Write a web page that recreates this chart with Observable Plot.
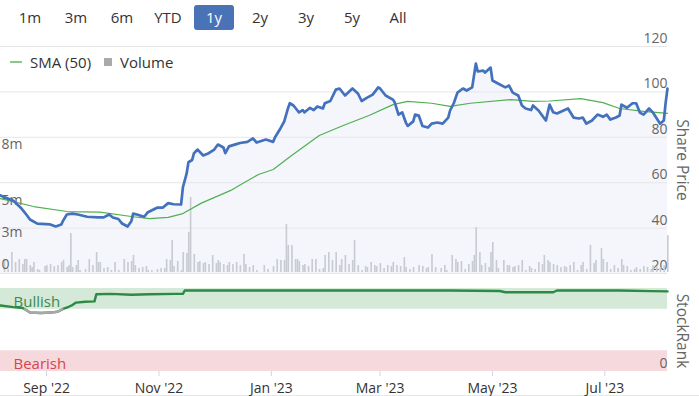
<!DOCTYPE html>
<html><head><meta charset="utf-8">
<script src="https://cdn.jsdelivr.net/npm/d3@7"></script>
<script src="https://cdn.jsdelivr.net/npm/@observablehq/plot@0.6"></script>
<style>
body{margin:0;background:#fff;font-family:"Open Sans",sans-serif;}
#wrap{position:relative;width:699px;height:396px;overflow:hidden;}
#wrap svg{position:absolute;left:0;top:0;}
#btns{position:absolute;left:7px;top:5px;display:flex;}
.btn{width:46px;height:25px;display:flex;justify-content:center;align-items:center;font-size:15px;color:#333;}
.btn span{display:inline-block;line-height:25px;}
.btn.sel span{background:#4a72b6;color:#fff;border-radius:3px;width:40px;text-align:center;}
#legend{position:absolute;left:10px;top:51px;font-size:15px;color:#333;display:flex;align-items:center;height:22px;}
.lline{width:12px;height:2px;background:#8bc98b;margin-right:8px;}
.lsq{width:8px;height:8px;background:#aaa;margin:0 8px 0 13px;}
.vlab{position:absolute;font-size:15.5px;color:#666;transform:translate(-50%,-50%) rotate(90deg);white-space:nowrap;}
#bottomline{position:absolute;left:0;top:395px;width:699px;height:1px;background:#e6e6e6;}
</style></head>
<body>
<div id="wrap">
  <div id="btns"></div>
  <div id="legend"><div class="lline"></div><span>SMA (50)</span><div class="lsq"></div><span>Volume</span></div>
  <div class="vlab" style="left:683px;top:160px;">Share Price</div>
  <div class="vlab" style="left:683px;top:331px;">StockRank</div>
  <div id="bottomline"></div>
</div>
<script>
// ---------- data ----------
const START = "2022-08-07";            // day 0
const END_DAY = 362;                   // last day shown
const rangeButtons = ["1m","3m","6m","YTD","1y","2y","3y","5y","All"];
const selectedRange = "1y";
// share price [day, price]
const price = [[0,54.4],[7,52],[11,49],[14,46],[16,43.8],[20,42],[27,41.6],[30,40.7],[33,41.6],[34,43.3],[36,46],[39,46.4],[42,46],[47,45],[53,44.7],[56,44.7],[59,46],[61,44.7],[64,44],[66,42],[69,40.7],[71,43],[72,46.4],[74,46],[78,45],[80,47],[85,49],[88,49],[91,51],[94,50.5],[98,50.4],[99,58],[101,64],[102,69],[104,70],[105,73],[107,74.6],[110,72],[113,73],[116,74.6],[118,76.8],[121,75.5],[122,73],[124,76],[128,77],[130,77.5],[134,78],[137,79.5],[139,77.7],[144,79],[148,78],[149,80],[152,84],[154,87],[156,92.7],[157,95],[159,94],[162,91],[164,92],[165,91],[168,93],[170,92],[172,93.6],[175,92.7],[176,95],[179,96],[182,101],[184,101.5],[187,98.4],[191,101.5],[194,99.3],[196,96],[199,97.5],[202,98.8],[205,102],[206,101.5],[209,98.4],[213,96.6],[214,95.3],[216,90],[218,91],[220,86.5],[221,85],[224,87],[225,90],[227,89.6],[229,85],[232,84.3],[234,86],[237,86.5],[240,86],[243,88.7],[244,91.8],[246,95],[248,99.7],[251,101.5],[253,100.6],[256,102],[258,112.5],[259,109],[262,109.4],[263,108.5],[266,110.7],[267,105],[270,103.7],[274,102],[276,102.8],[278,99.7],[281,98.4],[283,94],[285,92.7],[288,92],[289,94],[292,91.8],[296,87.4],[298,94.4],[300,91],[302,90.5],[308,92.7],[311,88.7],[314,88.3],[316,88.7],[318,86],[321,87.4],[324,90],[327,89],[329,90],[331,87.8],[334,88.7],[336,89.6],[337,94.4],[340,93],[343,95],[345,95],[347,90.9],[349,90],[352,92.7],[354,91],[358,86],[360,87.4],[361,95.3],[362,101.5]];
// 50-day simple moving average [day, value]
const sma50 = [[0,53],[18,49.5],[36,47.3],[54,47],[72,45],[81,44.2],[91,44.7],[99,46.4],[109,51],[125,56.6],[130,59],[140,63.6],[148,65.8],[158,72],[173,80.8],[186,85.2],[200,89.6],[213,94.4],[221,95.8],[234,95],[244,93.6],[255,95],[277,96.6],[289,95.8],[298,96],[315,97],[327,95.3],[336,92.7],[349,91.4],[362,90.5]];
// volume, millions [day, volume]
const volume = [[2,1.45],[4,0.52],[6,2.12],[8,1.27],[10,1.54],[12,1.07],[13,1.54],[14,1.54],[16,0.97],[17,0.76],[18,1.27],[20,0.52],[21,0.39],[24,0.87],[25,0.97],[27,1.07],[29,0.87],[31,0.97],[33,1.27],[34,1.45],[36,0.76],[37,0.97],[38,3.47],[39,0.76],[41,0.97],[42,1.45],[43,0.39],[46,0.52],[48,1.54],[50,0.97],[52,2.12],[53,1.27],[54,1.27],[56,0.64],[58,0.76],[60,0.39],[62,1.27],[64,0.39],[67,1.54],[69,1.27],[71,1.36],[72,1.88],[73,0.97],[75,0.64],[77,0.76],[79,0.87],[80,0.39],[82,0.39],[85,0.52],[87,0.64],[89,0.64],[90,1.54],[92,1.45],[93,3.0],[94,0.87],[96,1.36],[98,0.39],[99,2.12],[101,2.04],[102,3.54],[103,5.64],[105,1.96],[107,1.27],[108,1.36],[110,1.17],[111,1.27],[113,1.07],[115,1.88],[117,1.17],[118,1.45],[119,1.27],[121,1.07],[123,0.97],[124,1.27],[126,1.07],[128,1.27],[130,0.97],[132,1.96],[133,1.07],[135,0.76],[137,0.97],[139,0.39],[143,0.97],[145,0.52],[148,0.87],[150,1.54],[152,1.45],[154,1.45],[155,4.05],[156,2.65],[158,2.65],[160,1.54],[161,1.54],[162,1.36],[164,0.97],[165,1.07],[167,0.87],[169,1.54],[171,1.54],[173,0.52],[175,0.64],[176,1.88],[178,2.12],[180,1.45],[182,2.12],[184,0.97],[185,1.54],[187,1.88],[189,1.07],[191,1.45],[192,3.0],[194,0.97],[196,0.39],[198,0.87],[199,0.76],[201,1.27],[203,0.97],[204,0.87],[206,1.17],[208,0.64],[210,0.97],[212,0.87],[213,1.27],[215,0.97],[217,0.87],[219,1.71],[220,0.76],[222,0.52],[224,0.76],[227,0.97],[229,0.87],[231,0.64],[232,0.76],[234,1.96],[236,0.76],[239,0.64],[241,0.97],[242,0.39],[245,1.88],[247,1.54],[248,1.27],[250,1.36],[252,0.52],[254,1.07],[256,1.36],[257,1.88],[258,3.86],[260,2.12],[261,0.97],[263,1.17],[265,0.76],[266,2.12],[267,2.86],[269,1.45],[270,0.64],[273,1.45],[275,0.97],[276,0.97],[278,0.76],[279,0.87],[281,0.97],[283,1.45],[285,0.39],[287,0.87],[288,0.64],[290,0.52],[292,1.27],[294,1.07],[295,1.88],[297,1.45],[298,1.27],[300,1.07],[302,0.97],[304,0.76],[306,0.87],[307,0.76],[309,0.97],[311,1.27],[313,0.39],[315,0.97],[316,1.27],[318,0.52],[320,2.65],[322,1.17],[323,1.45],[326,2.43],[327,1.54],[329,1.27],[331,0.52],[333,0.97],[335,0.64],[337,1.54],[338,0.97],[340,0.87],[342,0.39],[344,0.52],[345,0.76],[347,0.52],[349,0.87],[351,0.76],[353,0.52],[354,0.97],[356,0.87],[358,0.76],[360,0.97],[362,3.34]];
// StockRank [day, rank]
const stockRank = [[0,79.5],[7,77.5],[12,76.5],[14,74],[16,71],[22,70.5],[27,71],[31,72],[34,75.5],[37,78],[39,80],[41,83],[46,84],[51,84.5],[52,93],[60,93.5],[71,92.5],[81,93],[95,93.5],[99,93.5],[100,97.6],[163,97.6],[244,97.6],[271,97],[274,95.5],[300,95.5],[302,97.6],[336,97.6],[353,96.8],[362,96.5]];
const rankBands = [{name:"Bullish", lo:75, hi:100},{name:"Bearish", lo:0, hi:25}];
const bullishThreshold = 75;
const priceTicks = [20,40,60,80,100,120];
const volumeTicks = [0,3,5,8];
const rankTicks = [0];
const xTicks = ["2022-09-01","2022-11-01","2023-01-01","2023-03-01","2023-05-01","2023-07-01"];

// ---------- build ----------
const start = new Date(START + "T00:00:00Z");
const day = d => d3.utcDay.offset(start, d);
const P = price.map(([d,v]) => ({date: day(d), v}));
const S = sma50.map(([d,v]) => ({date: day(d), v}));
const V = volume.map(([d,v]) => ({date: day(d), v}));
const R = stockRank.map(([d,v]) => ({date: day(d), v}));
// grey (below-threshold) segments of the StockRank line
const G = []; let sid = 0;
R.forEach((p, i) => {
  if (i > 0) {
    const q = R[i-1];
    if ((q.v < bullishThreshold) !== (p.v < bullishThreshold)) {
      const t = (bullishThreshold - q.v) / (p.v - q.v);
      G.push({date: new Date(+q.date + t * (p.date - q.date)), v: bullishThreshold, z: sid});
      if (!(p.v < bullishThreshold)) sid++;
    }
  }
  if (p.v < bullishThreshold) G.push({...p, z: sid});
});

const btns = document.getElementById("btns");
rangeButtons.forEach(b => {
  const el = document.createElement("div");
  el.className = "btn" + (b === selectedRange ? " sel" : "");
  el.innerHTML = `<span>${b}</span>`;
  btns.appendChild(el);
});

const W = 699, H = 396;
const xDomain = [start, day(END_DAY)];
const common = {width: W, height: H, marginLeft: 0, marginRight: 32,
  style: {fontFamily: "'Open Sans', sans-serif", fontSize: "14px", background: "transparent", overflow: "visible"}};
const wrap = document.getElementById("wrap");
const add = svg => wrap.appendChild(svg);

// price background: area + grid + right axis
add(Plot.plot({...common, marginTop: 46, marginBottom: 123,
  x: {type: "utc", domain: xDomain, axis: null},
  y: {domain: [20,120], axis: null},
  marks: [
    Plot.areaY(P, {x: "date", y: "v", fill: "#f4f6fb", clip: true}),
    Plot.gridY(priceTicks, {stroke: "#e6e6e6", strokeOpacity: 1}),
    Plot.axisY(priceTicks, {anchor: "right", tickSize: 0, tickPadding: 0, textAnchor: "end", dy: -8, fill: "#666", label: null})
  ]}));

// volume
add(Plot.plot({...common, marginTop: 46, marginBottom: 124,
  x: {type: "utc", domain: xDomain, axis: null},
  y: {type: "pow", exponent: 1.35, domain: [0, 12.77], axis: null},
  marks: [
    Plot.rectY(V, {x: "date", y: "v", interval: "day", fill: "#c9cbd3", insetRight: 0.2}),
    Plot.axisY(volumeTicks, {anchor: "left", tickSize: 0, tickPadding: 0, textAnchor: "start", dx: 1, dy: -8, fill: "#666", label: null,
      tickFormat: d => d === 0 ? "0" : d + "m"})
  ]}));

// price lines
add(Plot.plot({...common, marginTop: 46, marginBottom: 123,
  x: {type: "utc", domain: xDomain, axis: null},
  y: {domain: [20,120], axis: null},
  marks: [
    Plot.line(S, {x: "date", y: "v", stroke: "#50b050", strokeWidth: 1.2}),
    Plot.line(P, {x: "date", y: "v", stroke: "#4471bd", strokeWidth: 2.7, strokeLinejoin: "round"})
  ]}));

// StockRank panel
add(Plot.plot({...common, marginTop: 288, marginBottom: 25,
  x: {type: "utc", domain: xDomain, axis: null},
  y: {domain: [0,100], axis: null},
  marks: [
    Plot.rect(rankBands.filter(b => b.name === "Bullish"), {y1: "lo", y2: "hi", fill: "#d4e9d8"}),
    Plot.rect(rankBands.filter(b => b.name === "Bearish"), {y1: "lo", y2: "hi", fill: "#f6d9dc"}),
    Plot.text(rankBands.filter(b => b.name === "Bullish"), {y: "hi", text: "name", frameAnchor: "left", textAnchor: "start", dx: 13, dy: 14, fill: "#3b8b4b", fontSize: 15}),
    Plot.text(rankBands.filter(b => b.name === "Bearish"), {y: "hi", text: "name", frameAnchor: "left", textAnchor: "start", dx: 13, dy: 13, fill: "#d9434f", fontSize: 15}),
    Plot.line(R, {x: "date", y: "v", stroke: "#2b8a43", strokeWidth: 2.4}),
    Plot.line(G, {x: "date", y: "v", z: "z", stroke: "#a8a8a8", strokeWidth: 2.4}),
    Plot.axisY(rankTicks, {anchor: "right", tickSize: 0, tickPadding: 0, textAnchor: "end", dy: -8, fill: "#666", label: null}),
    Plot.axisX(xTicks.map(t => new Date(t + "T00:00:00Z")), {anchor: "bottom", tickSize: 5, tickPadding: 7, stroke: "#ccd6eb", fill: "#333", fontSize: 14, label: null,
      tickFormat: d3.utcFormat("%b '%y")})
  ]}));
</script>
</body></html>
